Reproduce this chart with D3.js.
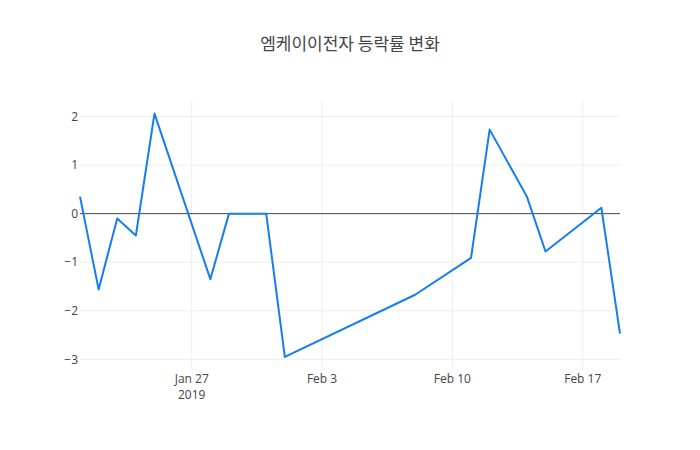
<!DOCTYPE html>
<html>
<head>
<meta charset="utf-8">
<script src="https://cdn.jsdelivr.net/npm/d3@7"></script>
<style>
  body { margin: 0; background: #fff; }
  svg text { font-family: "Open Sans", "Noto Sans CJK KR", sans-serif; fill: #444; }
</style>
</head>
<body>
<svg id="mainSvgArea" width="700" height="450"></svg>
<script>
var chartTitle = "엠케이이전자 등락률 변화";

// trading days and daily change (%)
var dates = ["2019-01-21", "2019-01-22", "2019-01-23", "2019-01-24", "2019-01-25",
    "2019-01-28", "2019-01-29", "2019-01-31", "2019-02-01", "2019-02-08",
    "2019-02-11", "2019-02-12", "2019-02-14", "2019-02-15", "2019-02-18", "2019-02-19"];
var changes = [0.35, -1.56, -0.10, -0.45, 2.06,
    -1.35, 0.00, 0.00, -2.95, -1.67,
    -0.91, 1.73, 0.35, -0.78, 0.12, -2.47];

var yTicks = [-3, -2, -1, 0, 1, 2];
var xTicks = ["2019-01-27", "2019-02-03", "2019-02-10", "2019-02-17"];

var width = 700, height = 450;
var margin = {top: 100, right: 80, bottom: 80, left: 80};

var parseDate = d3.timeParse("%Y-%m-%d");
var points = dates.map(function(d, i) {
    return {date: parseDate(d), value: changes[i]};
});

var svg = d3.select("#mainSvgArea");

var x = d3.scaleTime()
    .domain(d3.extent(points, function(p) { return p.date; }))
    .range([margin.left, width - margin.right]);

var y = d3.scaleLinear()
    .domain([-3.22, 2.34])
    .range([height - margin.bottom, margin.top]);

// grid
var grid = svg.append("g");
grid.selectAll("line.vgrid").data(xTicks).enter().append("line")
    .attr("class", "vgrid")
    .attr("x1", function(d) { return x(parseDate(d)); })
    .attr("x2", function(d) { return x(parseDate(d)); })
    .attr("y1", margin.top)
    .attr("y2", height - margin.bottom)
    .attr("stroke", "#eee")
    .attr("stroke-width", 1);

grid.selectAll("line.hgrid").data(yTicks.filter(function(t) { return t !== 0; })).enter().append("line")
    .attr("class", "hgrid")
    .attr("x1", margin.left)
    .attr("x2", width - margin.right)
    .attr("y1", function(d) { return y(d); })
    .attr("y2", function(d) { return y(d); })
    .attr("stroke", "#eee")
    .attr("stroke-width", 1);

// zero line
svg.append("line")
    .attr("x1", margin.left)
    .attr("x2", width - margin.right)
    .attr("y1", y(0))
    .attr("y2", y(0))
    .attr("stroke", "#444")
    .attr("stroke-width", 1);

// y tick labels
svg.append("g").selectAll("text").data(yTicks).enter().append("text")
    .attr("x", margin.left - 2)
    .attr("y", function(d) { return y(d); })
    .attr("dy", ".35em")
    .attr("text-anchor", "end")
    .style("font-size", "12px")
    .text(function(d) { return d < 0 ? "\u2212" + Math.abs(d) : d; });

// x tick labels
var fmt = d3.timeFormat("%b %-d");
var xLabels = svg.append("g").selectAll("text").data(xTicks).enter().append("text")
    .attr("x", function(d) { return x(parseDate(d)); })
    .attr("y", height - margin.bottom + 13)
    .attr("text-anchor", "middle")
    .style("font-size", "12px")
    .text(function(d) { return fmt(parseDate(d)); });

svg.append("text")
    .attr("x", x(parseDate(xTicks[0])))
    .attr("y", height - margin.bottom + 29)
    .attr("text-anchor", "middle")
    .style("font-size", "12px")
    .text(xTicks[0].slice(0, 4));

// series
var line = d3.line()
    .x(function(p) { return x(p.date); })
    .y(function(p) { return y(p.value); });

svg.append("path")
    .datum(points)
    .attr("d", line)
    .attr("fill", "none")
    .attr("stroke", "rgb(20,126,240)")
    .attr("stroke-width", 2)
    .attr("stroke-linejoin", "round");

// title
svg.append("text")
    .attr("x", width / 2)
    .attr("y", 50)
    .attr("text-anchor", "middle")
    .style("font-family", "'Noto Sans CJK KR', sans-serif")
    .style("font-size", "17px")
    .text(chartTitle);
</script>
</body>
</html>
